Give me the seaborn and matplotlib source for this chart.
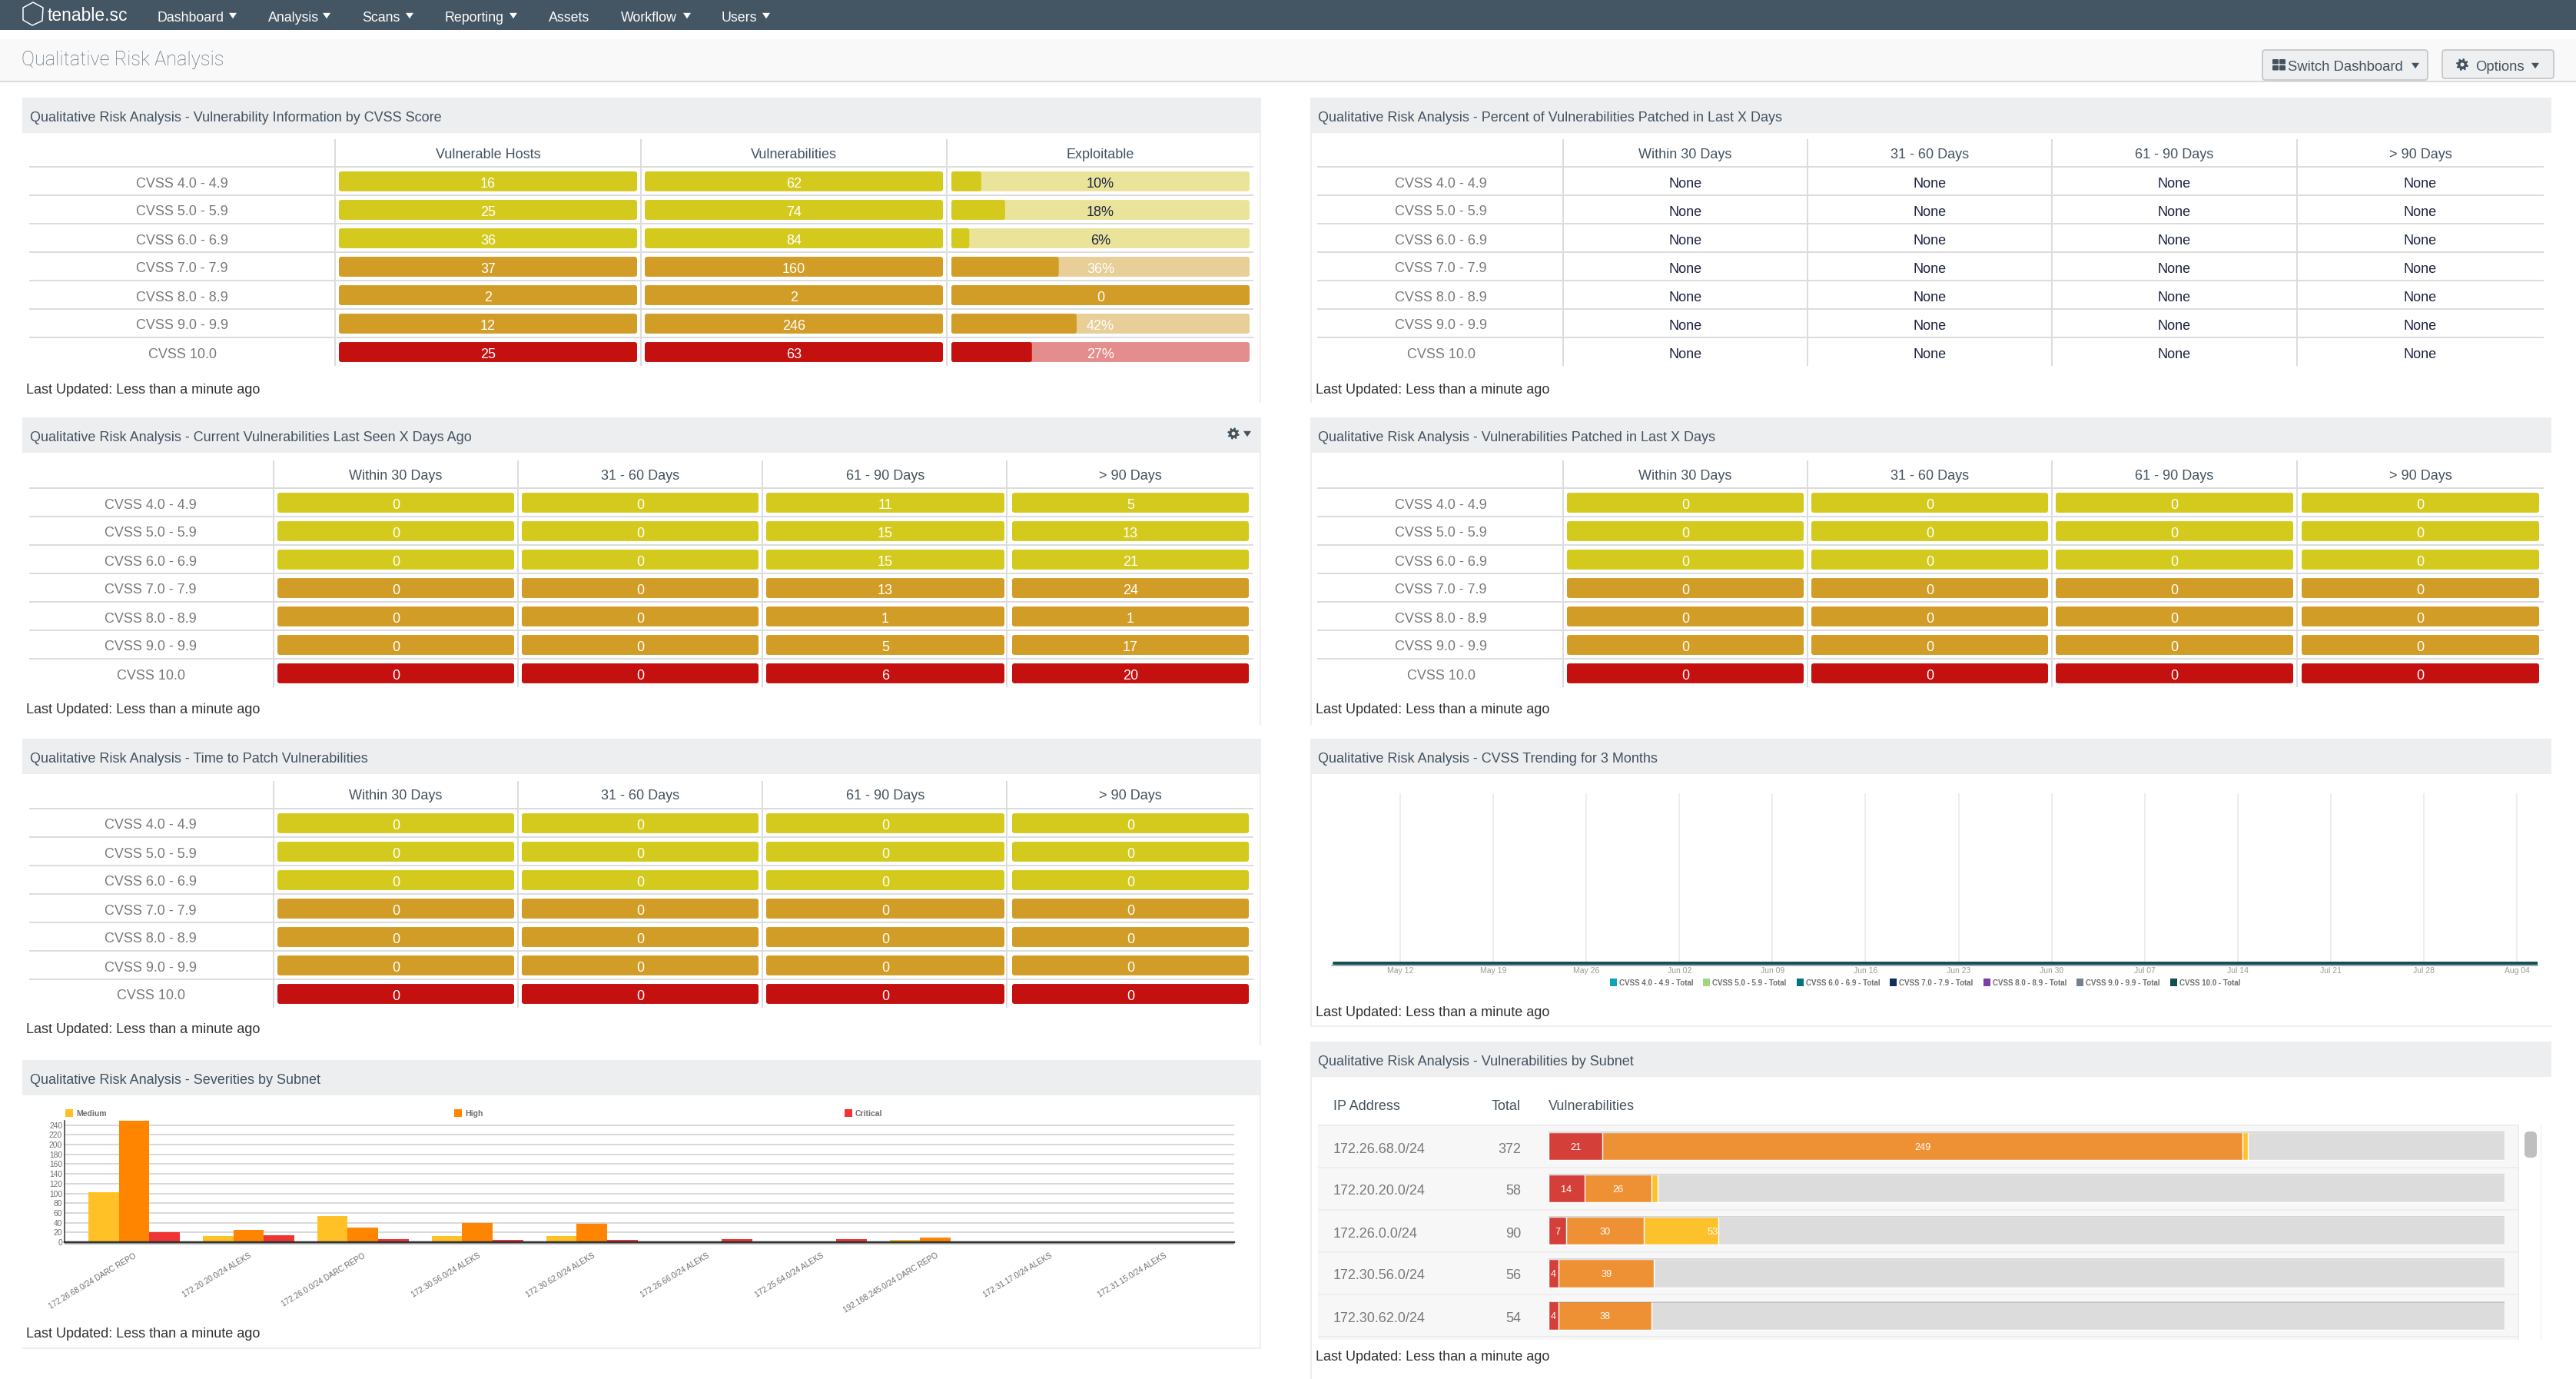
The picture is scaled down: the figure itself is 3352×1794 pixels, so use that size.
import numpy as np
import pandas as pd
import matplotlib
matplotlib.use('Agg')
import matplotlib.pyplot as plt
from matplotlib.patches import Rectangle, Polygon, FancyBboxPatch, Circle
import seaborn as sns

W, H = 3352, 1794
DPI = 100
PT = 72 / DPI  # one screenshot pixel in points

# ----------------- Data -----------------
cvss_labels = ['CVSS 4.0 - 4.9', 'CVSS 5.0 - 5.9', 'CVSS 6.0 - 6.9', 'CVSS 7.0 - 7.9',
               'CVSS 8.0 - 8.9', 'CVSS 9.0 - 9.9', 'CVSS 10.0']
day_headers = ['Within 30 Days', '31 - 60 Days', '61 - 90 Days', '> 90 Days']
info_headers = ['Vulnerable Hosts', 'Vulnerabilities', 'Exploitable']

info_hosts = [16, 25, 36, 37, 2, 12, 25]
info_vulns = [62, 74, 84, 160, 2, 246, 63]
exploit_labels = ['10%', '18%', '6%', '36%', '0', '42%', '27%']
exploit_fill = [10, 18, 6, 36, 100, 42, 27]

seen_30 = [0, 0, 0, 0, 0, 0, 0]
seen_60 = [0, 0, 0, 0, 0, 0, 0]
seen_90 = [11, 15, 15, 13, 1, 5, 6]
seen_over = [5, 13, 21, 24, 1, 17, 20]

all_zero = [0, 0, 0, 0, 0, 0, 0]
all_none = ['None', 'None', 'None', 'None', 'None', 'None', 'None']

subnet_chart_labels = ['172.26.68.0/24 DARC REPO', '172.20.20.0/24 ALEKS', '172.26.0.0/24 DARC REPO',
                       '172.30.56.0/24 ALEKS', '172.30.62.0/24 ALEKS', '172.26.66.0/24 ALEKS',
                       '172.25.64.0/24 ALEKS', '192.168.245.0/24 DARC REPO', '172.31.17.0/24 ALEKS',
                       '172.31.15.0/24 ALEKS']
chart_medium = [102, 12, 53, 13, 12, 0, 0, 4, 2, 2]
chart_high = [249, 26, 30, 39, 38, 0, 0, 10, 0, 0]
chart_critical = [21, 14, 7, 4, 4, 6, 6, 0, 1, 1]
chart_yticks = [0, 20, 40, 60, 80, 100, 120, 140, 160, 180, 200, 220, 240]

trend_dates = ['2019-05-07', '2019-05-12', '2019-05-19', '2019-05-26', '2019-06-02', '2019-06-09',
               '2019-06-16', '2019-06-23', '2019-06-30', '2019-07-07', '2019-07-14', '2019-07-21',
               '2019-07-28', '2019-08-04', '2019-08-06']
trend_totals = [0, 0, 0, 0, 0, 0, 0, 0, 0, 0, 0, 0, 0, 0, 0]
trend_ticks = ['2019-05-12', '2019-05-19', '2019-05-26', '2019-06-02', '2019-06-09', '2019-06-16',
               '2019-06-23', '2019-06-30', '2019-07-07', '2019-07-14', '2019-07-21', '2019-07-28',
               '2019-08-04']
trend_series = ['CVSS 4.0 - 4.9 - Total', 'CVSS 5.0 - 5.9 - Total', 'CVSS 6.0 - 6.9 - Total',
                'CVSS 7.0 - 7.9 - Total', 'CVSS 8.0 - 8.9 - Total', 'CVSS 9.0 - 9.9 - Total',
                'CVSS 10.0 - Total']

subnet_ips = ['172.26.68.0/24', '172.20.20.0/24', '172.26.0.0/24', '172.30.56.0/24', '172.30.62.0/24']
subnet_totals = [372, 58, 90, 56, 54]
subnet_critical = [21, 14, 7, 4, 4]
subnet_high = [249, 26, 30, 37, 36]
subnet_medium = [2, 2.5, 29, 0, 0]
subnet_critical_text = ['21', '14', '7', '4', '4']
subnet_high_text = ['249', '26', '30', '39', '38']
subnet_medium_text = ['', '', '53', '', '']
subnet_axis_max = 372

# ----------------- Styles -----------------
YELLOW, ORANGE, RED = '#d4ca1e', '#d19d26', '#c4100f'
LT_YELLOW, LT_ORANGE, LT_RED = '#eae49b', '#e8ce97', '#e48d8c'
row_colors = [YELLOW, YELLOW, YELLOW, ORANGE, ORANGE, ORANGE, RED]
row_tracks = [LT_YELLOW, LT_YELLOW, LT_YELLOW, LT_ORANGE, LT_ORANGE, LT_ORANGE, LT_RED]
exploit_text = ['#1d2340', '#1d2340', '#1d2340', 'white', 'white', 'white', 'white']

NAVY = '#445664'
SLATE = '#43525f'
LINE = '#dcdcdc'
HEADER_BG = '#edeef0'
BORDER = '#eeeeee'
severity_colors = {'Medium': '#ffc125', 'High': '#ff8400', 'Critical': '#ef3434'}
trend_colors = ['#0ea5b8', '#a3d67f', '#00757f', '#0d2f5b', '#7b40a8', '#75828e', '#0e4e55']

sns.set_style('white')
plt.rcParams['font.family'] = ['Liberation Sans', 'DejaVu Sans']

fig = plt.figure(figsize=(W / DPI, H / DPI), dpi=DPI, facecolor='white')

# page axes in screenshot pixels, holds all the dashboard furniture
page = fig.add_axes([0, 0, 1, 1])
page.set_xlim(0, W)
page.set_ylim(H, 0)
page.axis('off')


def px_axes(x0, y0, x1, y1):
    ax = fig.add_axes([x0 / W, 1 - y1 / H, (x1 - x0) / W, (y1 - y0) / H])
    ax.patch.set_visible(False)
    return ax


def label(x, y, s, size=13, color=SLATE, ha='left', **kw):
    page.text(x, y, s, fontsize=size, color=color, ha=ha, va='center_baseline', **kw)


def box(x0, y0, x1, y1, color, z=1):
    page.add_patch(Rectangle((x0, y0), x1 - x0, y1 - y0, facecolor=color, edgecolor='none', zorder=z))


def caret(x, y, w, color):
    page.add_patch(Polygon([(x - w / 2, y - w * 0.32), (x + w / 2, y - w * 0.32), (x, y + w * 0.42)],
                           closed=True, facecolor=color, edgecolor='none', zorder=3))


def gear(x, y, r, bg):
    angles = np.linspace(0, 2 * np.pi, 48, endpoint=False) + np.pi / 24
    radii = np.where((np.arange(48) % 6) < 3, r, r * 0.74)
    page.add_patch(Polygon(np.column_stack([x + radii * np.cos(angles), y + radii * np.sin(angles)]),
                           closed=True, facecolor=SLATE, edgecolor='none', zorder=3))
    page.add_patch(Circle((x, y), r * 0.32, facecolor=bg, edgecolor='none', zorder=4))


def button(x0, y0, x1, y1):
    page.add_patch(FancyBboxPatch((x0 + 3, y0 + 3), x1 - x0 - 6, y1 - y0 - 6, boxstyle='round,pad=3,rounding_size=4',
                                  facecolor='#eeeff1', edgecolor='#c9cbcd', linewidth=2 * PT, zorder=2))


def round_bars(ax, width_px, height_px, radius=3):
    # swap the square bars seaborn drew for ones with the small css radius
    xlo, xhi = ax.get_xlim()
    ylo, yhi = sorted(ax.get_ylim())
    ux = (xhi - xlo) / width_px
    uy = (yhi - ylo) / height_px
    for p in list(ax.patches):
        x, y, w, h = p.get_x(), p.get_y(), p.get_width(), p.get_height()
        ax.add_patch(FancyBboxPatch((x, y), w, h, boxstyle=f'round,pad=0,rounding_size={radius * ux}',
                                    mutation_aspect=uy / ux, facecolor=p.get_facecolor(), edgecolor='none'))
        p.remove()


def panel_frame(x0, x1, head_top, head_bot, bottom, title, side, floor=False):
    box(x0, head_top, x1, head_bot, HEADER_BG)
    edge = x1 - 2 if side == 'right' else x0
    box(edge, head_bot, edge + 2, bottom, BORDER)
    if floor:
        box(x0, bottom - 2, x1, bottom, BORDER)
    label(x0 + 10, (head_top + head_bot) / 2 + 1, title, size=13, color=SLATE)


def draw_table(top, line_left, line_right, label_x, vlines, spans, headers, cells,
               tracks=None, fills=None, text_colors=None):
    row_h = 37
    first = top + 36.5
    for i in range(7):
        box(line_left, first + row_h * i - 1, line_right, first + row_h * i + 1, LINE)
        label(label_x, first + row_h * (i + 0.5) + 1, cvss_labels[i], size=13, color='#77797b', ha='center')
    for v in vlines:
        box(v - 1, top, v + 1, first + row_h * 7, LINE)
    for c, (x0, x1) in enumerate(spans):
        label((x0 + x1) / 2, top + 18, headers[c], size=13, ha='center')
        ax = px_axes(x0, first, x1, first + row_h * 7)
        column = list(cells[c])
        if column[0] != 'None':
            fill = fills[c] if fills and fills[c] is not None else [100] * 7
            if tracks and tracks[c]:
                sns.barplot(x=[100] * 7, y=cvss_labels, hue=cvss_labels, palette=row_tracks, width=0.7,
                            saturation=1, legend=False, ax=ax)
            sns.barplot(x=fill, y=cvss_labels, hue=cvss_labels, palette=row_colors, width=0.7,
                        saturation=1, legend=False, ax=ax)
        ax.set_xlim(0, 100)
        ax.set_ylim(6.5, -0.5)
        if column[0] != 'None':
            round_bars(ax, x1 - x0, row_h * 7)
        for r, val in enumerate(column):
            if column[0] == 'None':
                col = '#1d2340'
            elif text_colors and text_colors[c]:
                col = text_colors[c][r]
            else:
                col = 'white'
            ax.text(50, r + 0.04, str(val), fontsize=13, color=col, ha='center', va='center_baseline')
        ax.axis('off')


# ----------------- Top bars -----------------
box(0, 0, W, 39, NAVY)
box(0, 51, W, 105, '#f9f9f9')
box(0, 105, W, 107, LINE)

# logo
page.add_patch(Polygon([(43, 3), (56, 10), (55, 27), (42, 33), (30, 26), (30, 10)], closed=True,
                       facecolor='none', edgecolor='white', linewidth=1.5 * PT, zorder=3))
label(62, 18, 'tenable.sc', size=16.5, color='white')
nav_items = [('Dashboard', 204, 303), ('Analysis', 349, 425), ('Scans', 471, 533), ('Reporting', 578, 668),
             ('Assets', 714, None), ('Workflow', 808, 894), ('Users', 939, 997)]
for name, x, cx in nav_items:
    label(x, 21, name, size=12.8, color='white')
    if cx:
        caret(cx, 20, 10, 'white')
label(28, 76, 'Qualitative Risk Analysis', size=18.3, color='#5f6f7b', family='Roboto', fontweight='light')

button(2944, 65, 3159, 104)
button(3178, 65, 3323, 102)
for gx, gy in [(2957, 77), (2966, 77), (2957, 85), (2966, 85)]:
    page.add_patch(FancyBboxPatch((gx + 1, gy + 1), 6, 4.5, boxstyle='round,pad=1,rounding_size=1',
                                  facecolor=SLATE, edgecolor='none', zorder=3))
label(2977, 85, 'Switch Dashboard', size=13.3, zorder=3)
caret(3143, 85, 10, SLATE)
gear(3204, 84, 8, '#eeeff1')
label(3221, 85, 'Options', size=13.3, zorder=3)
caret(3299, 85, 10, SLATE)

# ----------------- Table panels -----------------
L0, L1 = 29, 1641
R0, R1 = 1705, 3320

panel_frame(L0, L1, 127, 173, 524, 'Qualitative Risk Analysis - Vulnerability Information by CVSS Score', 'right')
draw_table(181, 38, 1631, 237, [436, 834, 1232], [(441, 829), (839, 1227), (1238, 1626)], info_headers,
           [info_hosts, info_vulns, exploit_labels], tracks=[False, False, True],
           fills=[None, None, exploit_fill], text_colors=[None, None, exploit_text])
label(34, 505, 'Last Updated: Less than a minute ago', size=13, color='#2f3133')

left_vlines = [356, 674, 992, 1310]
left_spans = [(361, 669), (679, 987), (997, 1307), (1317, 1625)]
panel_frame(L0, L1, 543, 589, 943, 'Qualitative Risk Analysis - Current Vulnerabilities Last Seen X Days Ago', 'right')
draw_table(599, 38, 1631, 196, left_vlines, left_spans, day_headers, [seen_30, seen_60, seen_90, seen_over])
label(34, 921, 'Last Updated: Less than a minute ago', size=13, color='#2f3133')
gear(1605, 564, 7.7, HEADER_BG)
caret(1623, 564, 10, SLATE)

panel_frame(L0, L1, 961, 1007, 1360, 'Qualitative Risk Analysis - Time to Patch Vulnerabilities', 'right')
draw_table(1016, 38, 1631, 196, left_vlines, left_spans, day_headers, [all_zero] * 4)
label(34, 1338, 'Last Updated: Less than a minute ago', size=13, color='#2f3133')

right_vlines = [2034, 2352, 2670, 2989]
right_spans = [(2039, 2347), (2357, 2665), (2675, 2984), (2995, 3304)]
panel_frame(R0, R1, 127, 173, 524, 'Qualitative Risk Analysis - Percent of Vulnerabilities Patched in Last X Days', 'left')
draw_table(181, 1714, 3310, 1875, right_vlines, right_spans, day_headers, [all_none] * 4)
label(1712, 505, 'Last Updated: Less than a minute ago', size=13, color='#2f3133')

panel_frame(R0, R1, 543, 589, 943, 'Qualitative Risk Analysis - Vulnerabilities Patched in Last X Days', 'left')
draw_table(599, 1714, 3310, 1875, right_vlines, right_spans, day_headers, [all_zero] * 4)
label(1712, 921, 'Last Updated: Less than a minute ago', size=13, color='#2f3133')

# ----------------- Severities by Subnet -----------------
panel_frame(L0, L1, 1379, 1425, 1755, 'Qualitative Risk Analysis - Severities by Subnet', 'right', floor=True)
sev_df = pd.DataFrame({
    'subnet': subnet_chart_labels * 3,
    'severity': ['Medium'] * 10 + ['High'] * 10 + ['Critical'] * 10,
    'count': chart_medium + chart_high + chart_critical,
})
ax = px_axes(84, 1458, 1606, 1616)
box(84, 1617, 1606, 1619, '#b5b5b5')
sns.barplot(data=sev_df, x='subnet', y='count', hue='severity', palette=severity_colors, width=0.8,
            saturation=1, legend=False, ax=ax, zorder=3, linewidth=0)
ax.set_xlim(-0.607, 9.61)
ax.set_ylim(0, 249)
ax.set_yticks(chart_yticks)
ax.set_xlabel('')
ax.set_ylabel('')
ax.set_xticks(range(len(subnet_chart_labels)))
ax.set_xticklabels(subnet_chart_labels, rotation=31, ha='right', rotation_mode='anchor', fontsize=7.3, color='#6e6e6e')
ax.tick_params(axis='x', length=0, pad=9)
ax.tick_params(axis='y', length=0, pad=2, labelsize=7.4, labelcolor='#6e6e6e')
ax.yaxis.grid(True, color='#d9d9d9', linewidth=2 * PT)
ax.set_axisbelow(True)
ax.xaxis.grid(False)
sns.despine(ax=ax)
ax.spines['left'].set_color('#333333')
ax.spines['left'].set_linewidth(1.5 * PT)
ax.spines['left'].set_zorder(5)
ax.spines['bottom'].set_color('#333333')
ax.spines['bottom'].set_linewidth(2.5 * PT)
ax.spines['bottom'].set_zorder(5)
for (name, col), sx in zip(severity_colors.items(), [85, 591, 1099]):
    box(sx, 1443, sx + 10, 1453, col)
    label(sx + 14, 1448, name, size=7.5, color='#6e6e6e', fontweight='bold')
label(34, 1734, 'Last Updated: Less than a minute ago', size=13, color='#2f3133')

# ----------------- CVSS Trending -----------------
panel_frame(R0, R1, 961, 1007, 1336, 'Qualitative Risk Analysis - CVSS Trending for 3 Months', 'left', floor=True)
ax = px_axes(1733, 1032, 3302, 1255.5)
dates = pd.to_datetime(trend_dates)
ticks = pd.to_datetime(trend_ticks)
for name, col in zip(trend_series, trend_colors):
    sns.lineplot(x=dates, y=trend_totals, color=col, linewidth=3.5 * PT, ax=ax, errorbar=None, zorder=3)
ax.set_xlim(ticks[0] - pd.Timedelta(days=5.15), ticks[-1] + pd.Timedelta(days=1.56))
ax.set_ylim(-2.5, 221)
ax.set_yticks([])
ax.set_xticks(ticks)
ax.set_xticklabels([t.strftime('%b %d') for t in ticks], fontsize=7.5, color='#9a9a9a')
ax.tick_params(axis='x', length=0, pad=2)
ax.xaxis.grid(True, color='#e8e8e8', linewidth=1.5 * PT)
ax.set_xlabel('')
ax.set_ylabel('')
sns.despine(ax=ax, left=True)
ax.spines['bottom'].set_color('#7f8c93')
ax.spines['bottom'].set_linewidth(1.5 * PT)
for name, col, sx in zip(trend_series, trend_colors, [2095, 2216, 2338, 2459, 2581, 2702, 2824]):
    box(sx, 1273, sx + 9, 1283, col)
    label(sx + 12, 1278, name, size=7, color='#6e6e6e', fontweight='bold')
label(1712, 1315, 'Last Updated: Less than a minute ago', size=13, color='#2f3133')

# ----------------- Vulnerabilities by Subnet -----------------
panel_frame(R0, R1, 1355, 1401, 1794, 'Qualitative Risk Analysis - Vulnerabilities by Subnet', 'left')
label(1735, 1437, 'IP Address')
label(1979, 1437, 'Total', ha='right')
label(2015, 1437, 'Vulnerabilities')
box(1715, 1463, 3278, 1743, '#f7f7f7')
for y in [1464, 1519, 1574, 1629, 1684, 1739]:
    box(1715, y - 1, 3278, y + 1, '#eeeeee', z=2)
box(3277, 1463, 3278, 1743, '#e6e6e6', z=2)
box(3306, 1463, 3307, 1743, '#eeeeee', z=2)
page.add_patch(FancyBboxPatch((3288, 1475), 10, 28, boxstyle='round,pad=3,rounding_size=6', facecolor='#bfbfbf',
                              edgecolor='none', zorder=3))
for i, y in enumerate([1493, 1547, 1603, 1657, 1713]):
    label(1735, y, subnet_ips[i], size=13, color='#77797b')
    label(1979, y, str(subnet_totals[i]), size=13, color='#77797b', ha='right')

crit = np.array(subnet_critical, dtype=float)
high = np.array(subnet_high, dtype=float)
med = np.array(subnet_medium, dtype=float)
ax = px_axes(2015, 1463.5, 3259, 1739)
# stacked look: draw the longest cumulative first, shorter ones over it
for vals, col in [([subnet_axis_max] * 5, '#dcdcdc'), (crit + high + med, '#fdc12d'), (crit + high, '#ee9135'), (crit, '#d43f3a')]:
    sns.barplot(x=list(vals), y=subnet_ips, color=col, width=0.66, saturation=1, ax=ax)
ax.hlines(np.arange(5) - 0.325, 0, subnet_axis_max, color='black', alpha=0.14, linewidth=2 * PT)
for r in range(5):
    ax.text(crit[r] / 2, r, subnet_critical_text[r], color='white', fontsize=9.2, ha='center', va='center_baseline')
    ax.text(crit[r] + high[r] / 2, r, subnet_high_text[r], color='white', fontsize=9.2, ha='center', va='center_baseline')
    if subnet_medium_text[r]:
        ax.text(crit[r] + high[r] + med[r], r, subnet_medium_text[r], color='white', fontsize=9.2, ha='right', va='center_baseline')
ax.set_xlim(0, subnet_axis_max)
ax.set_ylim(4.5, -0.5)
ax.axis('off')
label(1712, 1763, 'Last Updated: Less than a minute ago', size=13, color='#2f3133')

fig.savefig('out.png', dpi=DPI, facecolor='white')
